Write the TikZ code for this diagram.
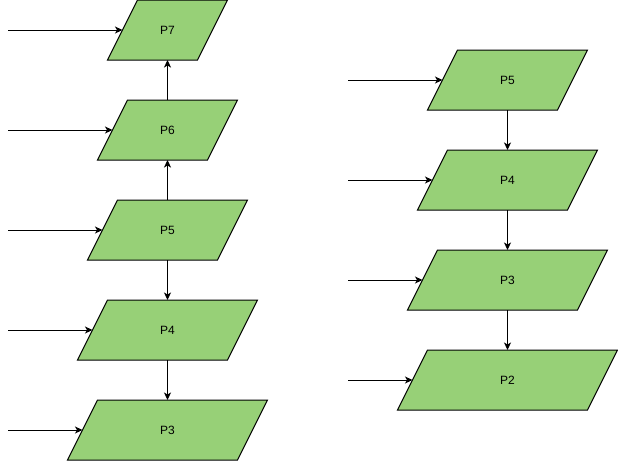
\documentclass[tikz,border=0pt]{standalone}
\usepackage{fontspec}
\setmainfont{Liberation Sans}
\usetikzlibrary{arrows.meta}
\definecolor{pgreen}{HTML}{97D077}
\tikzset{
 lbl/.style={draw=none, inner sep=0pt, outer sep=0pt, minimum height=60pt, font=\fontsize{12pt}{14pt}\selectfont},
 para/.style={draw=black, fill=pgreen, line width=1pt, line join=miter},
 link/.style={draw=black, line width=1pt, -{Stealth[length=7.5pt,width=7pt,inset=2pt]}}
}
\newcommand{\paranode}[5]{%
  \path[para] (#2-#4/2, #3+30) -- (#2-#4/2+30, #3-30) -- (#2+#4/2, #3-30) -- (#2+#4/2-30, #3+30) -- cycle;
  \node[lbl, minimum width=#4pt-30pt] (#1) at (#2,#3) {#5};
}
\begin{document}
\begin{tikzpicture}[x=1pt,y=-1pt]
\useasboundingbox (0,0) rectangle (618,461);
% left column
\paranode{L7}{167.5}{30}{120}{P7}
\paranode{L6}{167.5}{130}{140}{P6}
\paranode{L5}{167.5}{230}{160}{P5}
\paranode{L4}{167.5}{330}{180}{P4}
\paranode{L3}{167.5}{430}{200}{P3}
% right column
\paranode{R5}{507.5}{80}{160}{P5}
\paranode{R4}{507.5}{180}{180}{P4}
\paranode{R3}{507.5}{280}{200}{P3}
\paranode{R2}{507.5}{380}{220}{P2}
% vertical links
\draw[link] (L6.north) -- (L7.south);
\draw[link] (L5.north) -- (L6.south);
\draw[link] (L5.south) -- (L4.north);
\draw[link] (L4.south) -- (L3.north);
\draw[link] (R5.south) -- (R4.north);
\draw[link] (R4.south) -- (R3.north);
\draw[link] (R3.south) -- (R2.north);
% incoming links
\coordinate (i7) at (8,30);
\coordinate (i6) at (8,130);
\coordinate (i5) at (8,230);
\coordinate (i4) at (8,330);
\coordinate (i3) at (8,430);
\coordinate (j5) at (348,80);
\coordinate (j4) at (348,180);
\coordinate (j3) at (348,280);
\coordinate (j2) at (348,380);
\draw[link] (i7) -- (L7.west);
\draw[link] (i6) -- (L6.west);
\draw[link] (i5) -- (L5.west);
\draw[link] (i4) -- (L4.west);
\draw[link] (i3) -- (L3.west);
\draw[link] (j5) -- (R5.west);
\draw[link] (j4) -- (R4.west);
\draw[link] (j3) -- (R3.west);
\draw[link] (j2) -- (R2.west);
\end{tikzpicture}
\end{document}
